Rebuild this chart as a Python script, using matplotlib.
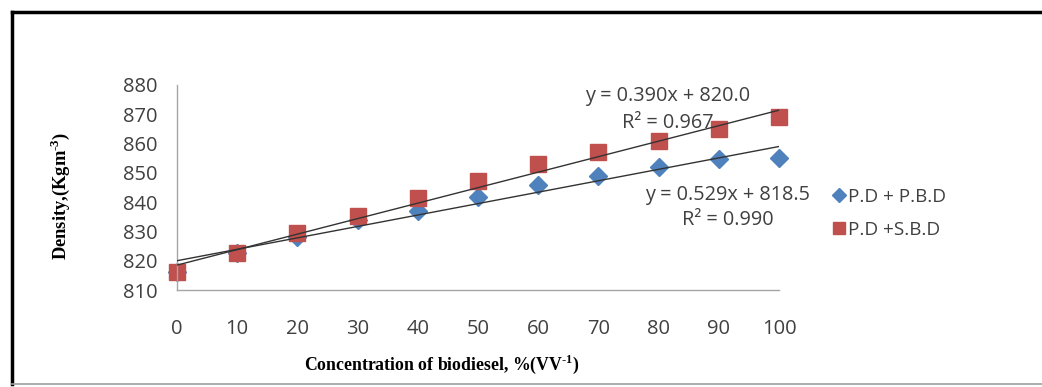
import matplotlib
matplotlib.use("Agg")
import matplotlib.pyplot as plt
from matplotlib.lines import Line2D
import numpy as np

# Biodiesel blend concentration (% v/v)
concentration = [0, 10, 20, 30, 40, 50, 60, 70, 80, 90, 100]

# Measured densities (kg m^-3)
density_pbd = [816, 822.5, 828, 834, 837, 841.8, 845.8, 849, 851.9, 854.6, 855.2]
density_sbd = [816, 822.5, 829.5, 835.3, 841.5, 847.2, 853, 857.2, 860.9, 865, 869]

series_labels = ["P.D + P.B.D", "P.D +S.B.D"]

# Linear trendline coefficients as printed on the chart
trend_pbd = (0.390, 820.0, 0.990)
trend_sbd = (0.529, 818.5, 0.967)

x_ticks = [0, 10, 20, 30, 40, 50, 60, 70, 80, 90, 100]
y_ticks = [810, 820, 830, 840, 850, 860, 870, 880]

blue = "#4F81BD"
red = "#C0504D"
sans = "Open Sans"
text_grey = "#404040"

plt.rcParams["mathtext.fontset"] = "custom"
plt.rcParams["mathtext.rm"] = "Liberation Serif:bold"
plt.rcParams["mathtext.bf"] = "Liberation Serif:bold"

fig = plt.figure(figsize=(10.42, 3.87), dpi=100)
ax = fig.add_axes([177 / 1042, 1 - 290 / 387, 602 / 1042, 205 / 387])

x_line = np.array([0, 100])
ax.plot(x_line, trend_pbd[0] * x_line + trend_pbd[1], color="#333333", lw=1.0, zorder=3)
ax.plot(x_line, trend_sbd[0] * x_line + trend_sbd[1], color="#333333", lw=1.0, zorder=3)

ax.plot(concentration, density_pbd, linestyle="none", marker="D", ms=9,
        color=blue, mec=blue, label=series_labels[0], zorder=2, clip_on=False)
ax.plot(concentration, density_sbd, linestyle="none", marker="s", ms=12,
        color=red, mec=red, label=series_labels[1], zorder=2, clip_on=False)

ax.set_xlim(0, 100)
ax.set_ylim(810, 880)
ax.set_xticks(x_ticks)
ax.set_yticks(y_ticks)
ax.tick_params(length=0, labelsize=14.5, labelcolor=text_grey)
ax.tick_params(axis="x", pad=21)
ax.tick_params(axis="y", pad=14)
for lab in ax.get_xticklabels() + ax.get_yticklabels():
    lab.set_fontfamily(sans)

for side in ("top", "right"):
    ax.spines[side].set_visible(False)
for side in ("left", "bottom"):
    ax.spines[side].set_color("#a6a6a6")
    ax.spines[side].set_linewidth(1.0)

# Trendline equations
eq_kw = dict(ha="center", va="center", fontsize=14.3, family=sans, color=text_grey,
             clip_on=False)
ax.text(81.5, 876.2, f"y = {trend_pbd[0]:.3f}x + {trend_pbd[1]:.1f}", **eq_kw)
ax.text(81.5, 866.9, f"R\u00b2 = {trend_sbd[2]:.3f}", **eq_kw)
ax.text(91.5, 842.6, f"y = {trend_sbd[0]:.3f}x + {trend_sbd[1]:.1f}", **eq_kw)
ax.text(91.5, 833.8, f"R\u00b2 = {trend_pbd[2]:.3f}", **eq_kw)

leg = ax.legend(loc="center left", bbox_to_anchor=(1.062, 0.373), frameon=False,
                prop={"family": sans, "size": 13.6}, handlelength=0.55,
                handletextpad=0.25, labelspacing=0.8, markerscale=0.75)
for t in leg.get_texts():
    t.set_color(text_grey)

fig.text(60 / 1042, 1 - 196 / 387, r"Density,(Kgm$^{\text{-3}}$)", rotation=90,
         ha="center", va="center", family="Liberation Serif", fontweight="bold",
         fontsize=13.3)
fig.text(442 / 1042, 1 - 364 / 387, r"Concentration of biodiesel, %(VV$^{\text{-1}}$)",
         ha="center", va="center", family="Liberation Serif", fontweight="bold",
         fontsize=12.8)

# Outer frame
fig.add_artist(Line2D([11.5 / 1042, 1.0], [1 - 11.5 / 387] * 2,
                      transform=fig.transFigure, color="black", lw=2.5))
fig.add_artist(Line2D([11.5 / 1042] * 2, [1 - 11.5 / 387, 1 - 384 / 387],
                      transform=fig.transFigure, color="black", lw=2.5))
fig.add_artist(Line2D([11.5 / 1042, 1.0], [1 - 384 / 387] * 2,
                      transform=fig.transFigure, color="#a0a0a0", lw=1.2))

fig.savefig("out.png", dpi=100, facecolor="white")
